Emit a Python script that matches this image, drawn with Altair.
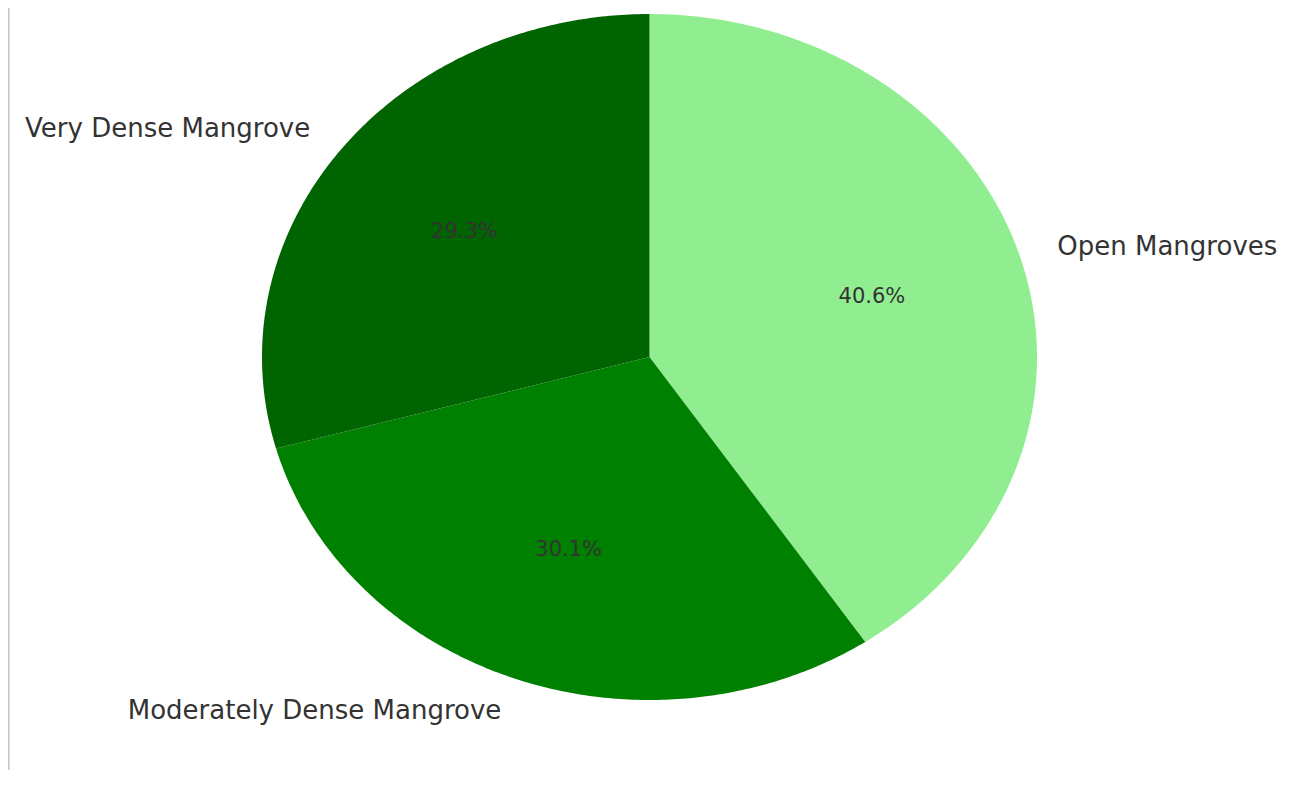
import altair as alt
import pandas as pd

# Data (clockwise from 12 o'clock)
categories = ["Open Mangroves", "Moderately Dense Mangrove", "Very Dense Mangrove"]
shares = [40.6, 30.1, 29.3]
colors = ["#90EE90", "#008000", "#006400"]
order = [0, 1, 2]

df = pd.DataFrame({"name": categories, "value": shares, "ord": order})

W, H = 775, 686
N = 180

base = alt.Chart(df).transform_window(
    cum="sum(value)", sort=[alt.SortField("ord")], frame=[None, 0]
).transform_joinaggregate(
    total="sum(value)"
).transform_calculate(
    a0="2*PI*(datum.cum - datum.value)/datum.total",
    a1="2*PI*datum.cum/datum.total",
).transform_calculate(
    mid="(datum.a0 + datum.a1)/2"
)

xs = alt.Scale(domain=[-1, 1], nice=False, zero=False)
ys = alt.Scale(domain=[-1, 1], nice=False, zero=False)
cscale = alt.Scale(domain=categories, range=colors)

wedges = base.transform_calculate(
    steps=f"sequence(0, {N + 2})"
).transform_flatten(
    ["steps"], as_=["k"]
).transform_calculate(
    ang=f"datum.a0 + (datum.a1 - datum.a0) * (datum.k - 1) / {N - 1}",
).transform_calculate(
    px="(datum.k == 0 || datum.k == {0}) ? 0 : sin(datum.ang)".format(N + 1),
    py="(datum.k == 0 || datum.k == {0}) ? 0 : cos(datum.ang)".format(N + 1),
).mark_line(filled=True, strokeWidth=0, interpolate="linear").encode(
    x=alt.X("px:Q", scale=xs, axis=None),
    y=alt.Y("py:Q", scale=ys, axis=None),
    fill=alt.Fill("name:N", scale=cscale, legend=None),
    detail="name:N",
    order=alt.Order("k:Q"),
)

pct = base.transform_calculate(
    tx="0.6*sin(datum.mid)",
    ty="0.6*cos(datum.mid)",
    lab="format(datum.value/datum.total*100, '.1f') + '%'",
).mark_text(
    font="DejaVu Sans", fontSize=21, color="#333333", align="center", baseline="middle"
).encode(
    x=alt.X("tx:Q", scale=xs, axis=None),
    y=alt.Y("ty:Q", scale=ys, axis=None),
    text="lab:N",
)

labels_base = base.transform_calculate(
    tx="1.1*sin(datum.mid)",
    ty="1.1*cos(datum.mid)",
)

labels_right = labels_base.transform_filter("datum.tx >= 0").mark_text(
    font="DejaVu Sans", fontSize=26, color="#333333", align="left", baseline="middle"
).encode(
    x=alt.X("tx:Q", scale=xs, axis=None),
    y=alt.Y("ty:Q", scale=ys, axis=None),
    text="name:N",
)

labels_left = labels_base.transform_filter("datum.tx < 0").mark_text(
    font="DejaVu Sans", fontSize=26, color="#333333", align="right", baseline="middle"
).encode(
    x=alt.X("tx:Q", scale=xs, axis=None),
    y=alt.Y("ty:Q", scale=ys, axis=None),
    text="name:N",
)

border = alt.Chart(df).mark_rule(color="#c8c8c8", strokeWidth=1.5).encode(
    x=alt.value(-253.5),
    y=alt.value(-6),
    y2=alt.value(H + 80),
)

chart = alt.layer(wedges, pct, labels_left, labels_right, border).properties(
    width=W,
    height=H,
    background="white",
    autosize=alt.AutoSizeParams(type="none"),
    padding={"left": 254, "top": 6, "right": 244, "bottom": 70},
).configure_view(strokeWidth=0, stroke="transparent")

chart.save("out.html", embed_options={"renderer": "svg", "actions": False})
